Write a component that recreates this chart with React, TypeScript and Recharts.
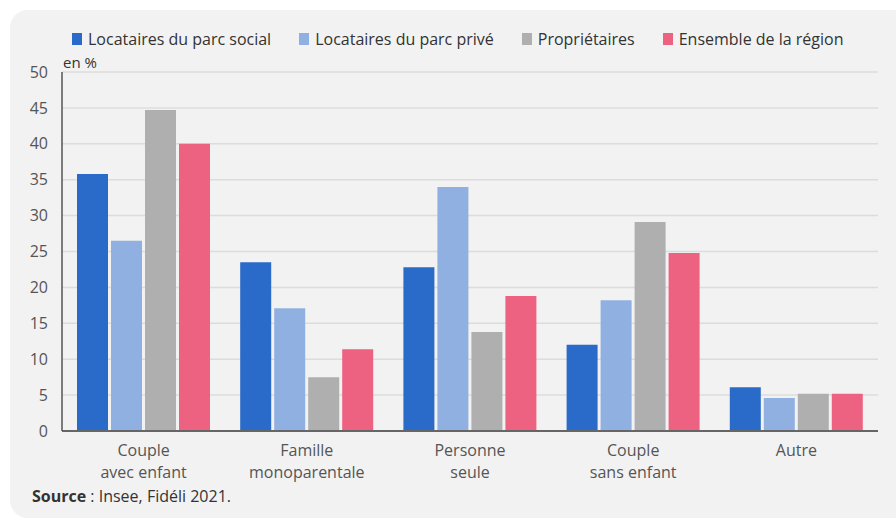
import React from "react";
import { BarChart, Bar, XAxis, YAxis, CartesianGrid } from "recharts";

const categories = ["Couple\navec enfant", "Famille\nmonoparentale", "Personne\nseule", "Couple\nsans enfant", "Autre"];
const locSocial = [35.8, 23.5, 22.8, 12.0, 6.1];
const locPrive = [26.5, 17.1, 34.0, 18.2, 4.6];
const proprietaires = [44.7, 7.5, 13.8, 29.1, 5.2];
const ensemble = [40.0, 11.4, 18.8, 24.8, 5.2];
const yTicks = [0, 5, 10, 15, 20, 25, 30, 35, 40, 45, 50];

const seriesNames = ["Locataires du parc social", "Locataires du parc privé", "Propriétaires", "Ensemble de la région"];
const seriesKeys = ["s1", "s2", "s3", "s4"];
const colors = ["#2a6ac8", "#8fb0e0", "#b0afb0", "#ed6181"];

const data = categories.map((c, i) => ({
  name: c,
  s1: locSocial[i],
  s2: locPrive[i],
  s3: proprietaires[i],
  s4: ensemble[i],
}));

const FONT = "'Open Sans', 'Noto Sans', sans-serif";

const XTick = (props: any) => {
  const { x, y, payload } = props;
  const lines = String(payload.value).split("\n");
  return (
    <text x={x} y={y} textAnchor="middle" fill="#555" fontSize={16} fontFamily={FONT}>
      {lines.map((l: string, i: number) => (
        <tspan key={i} x={x} dy={i === 0 ? 17 : 22}>
          {l}
        </tspan>
      ))}
    </text>
  );
};

export default function App() {
  return (
    <div style={{ position: "fixed", left: 0, top: 0, width: 896, height: 521, background: "#fff", overflow: "hidden" }}>
      <div style={{ position: "absolute", left: 10, top: 10, width: 910, height: 508, borderRadius: 18, background: "#f2f2f2" }} />
      <div style={{ position: "absolute", left: 0, top: 0 }}>
        <BarChart
          width={896}
          height={521}
          data={data}
          margin={{ top: 72, right: 18, bottom: 60, left: 0 }}
          barGap={3}
          barCategoryGap={15}
        >
          <CartesianGrid vertical={false} stroke="#dcdcdc" strokeWidth={1.5} />
          <XAxis
            dataKey="name"
            height={30}
            tick={<XTick />}
            tickLine={false}
            axisLine={{ stroke: "#666", strokeWidth: 2 }}
            interval={0}
          />
          <YAxis
            width={62}
            domain={[0, 50]}
            ticks={yTicks}
            tickLine={false}
            tickMargin={8}
            axisLine={{ stroke: "#555", strokeWidth: 1.5 }}
            tick={{ fill: "#555", fontSize: 16, fontFamily: FONT }}
          />
          {seriesKeys.map((k, i) => (
            <Bar key={k} dataKey={k} name={seriesNames[i]} fill={colors[i]} isAnimationActive={false} />
          ))}
        </BarChart>
      </div>
      <div
        style={{
          position: "absolute",
          left: 72,
          top: 28,
          display: "flex",
          alignItems: "center",
          fontFamily: FONT,
          fontSize: 16,
          color: "#333",
          whiteSpace: "nowrap",
        }}
      >
        {seriesNames.map((n, i) => (
          <div key={n} style={{ display: "flex", alignItems: "center", marginRight: i < 3 ? 28 : 0 }}>
            <span style={{ display: "inline-block", width: 10, height: 12, background: colors[i], marginRight: 6 }} />
            <span>{n}</span>
          </div>
        ))}
      </div>
      <div style={{ position: "absolute", left: 63, top: 52, fontFamily: FONT, fontSize: 15, color: "#333" }}>en %</div>
      <div style={{ position: "absolute", left: 32, top: 485, fontFamily: FONT, fontSize: 16, color: "#333" }}>
        <b>Source</b> : Insee, Fidéli 2021.
      </div>
    </div>
  );
}
